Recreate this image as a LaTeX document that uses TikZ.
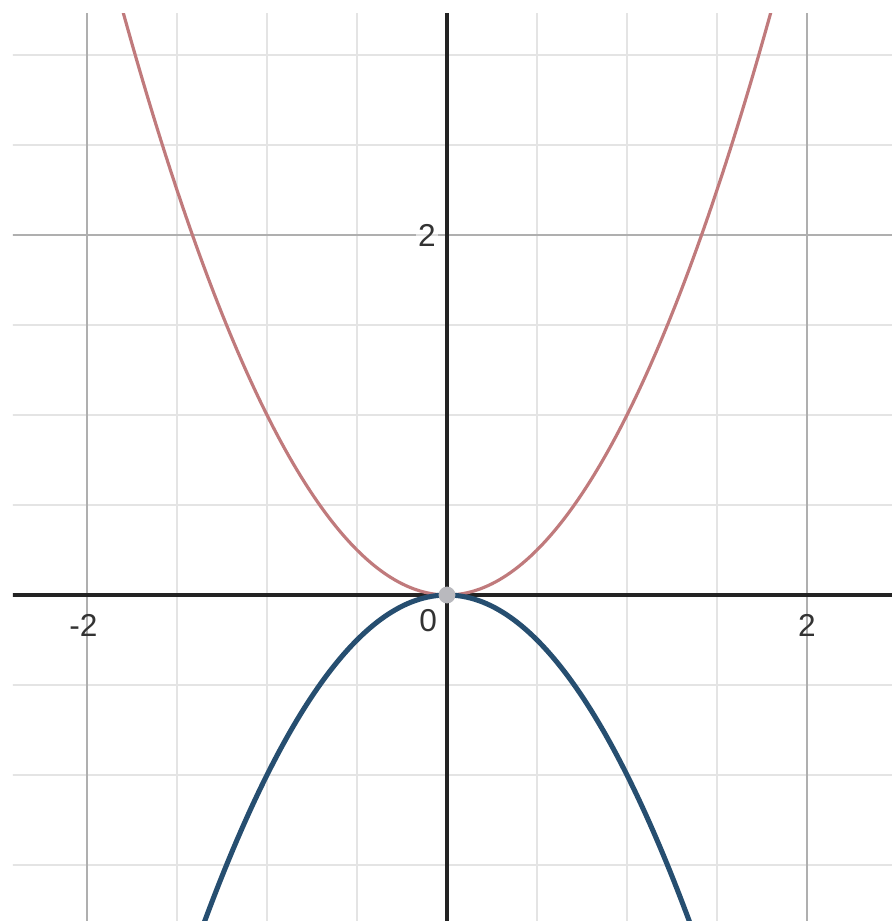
\documentclass[tikz,border=0pt]{standalone}
\usepackage{fontspec}
\setmainfont{Liberation Sans}
\definecolor{minorgrid}{RGB}{228,228,228}
\definecolor{majorgrid}{RGB}{175,175,175}
\definecolor{axiscol}{RGB}{35,35,35}
\definecolor{redcurve}{RGB}{192,122,124}
\definecolor{bluecurve}{RGB}{38,78,112}
\definecolor{dotcol}{RGB}{185,185,190}
\tikzset{
  minorline/.style={draw=minorgrid, line width=0.7pt},
  majorline/.style={draw=majorgrid, line width=1pt},
  axisline/.style={draw=axiscol, line width=1.8pt},
  ticklabel/.style={font=\fontsize{15}{17}\selectfont, text=black!80, inner sep=1pt},
}
\begin{document}
\begin{tikzpicture}[x=3cm,y=3cm]
\useasboundingbox[fill=white] (-2.4833,-1.8111) rectangle (2.4722,3.3056);
\begin{scope}
\clip (-2.4111,-1.8111) rectangle (2.4722,3.2333);
% minor grid
\foreach \gx in {-2.5,-1.5,-1,-0.5,0.5,1,1.5,2.5}
  \draw[minorline] (\gx,-2) -- (\gx,3.5);
\foreach \gy in {-1.5,-1,-0.5,0.5,1,1.5,2.5,3}
  \draw[minorline] (-2.6,\gy) -- (2.6,\gy);
% major grid
\foreach \gx in {-2,2}
  \draw[majorline] (\gx,-2) -- (\gx,3.5);
\draw[majorline] (-2.6,2) -- (2.6,2);
% axes
\draw[axisline] (-2.6,0) -- (2.6,0);
\draw[axisline] (0,-2) -- (0,3.5);
% curves
\draw[redcurve, line width=1.5pt, smooth, samples=120, domain=-1.85:1.85] plot (\x,{\x*\x});
\draw[bluecurve, line width=2.4pt, smooth, samples=120, domain=-1.4:1.4] plot (\x,{-\x*\x});
\end{scope}
\node[circle, fill=dotcol, minimum size=8pt, inner sep=0pt] (origin) at (0,0) {};
% labels
\node[ticklabel] (lxm2) at (-2.02,-0.1667) {-2};
\node[ticklabel] (lx2) at (2.0,-0.1667) {2};
\node[ticklabel] (lx0) at (-0.105,-0.14) {0};
\node[ticklabel, fill=white, fill opacity=0.6, text opacity=1] (ly2) at (-0.111,1.995) {2};
\end{tikzpicture}
\end{document}
